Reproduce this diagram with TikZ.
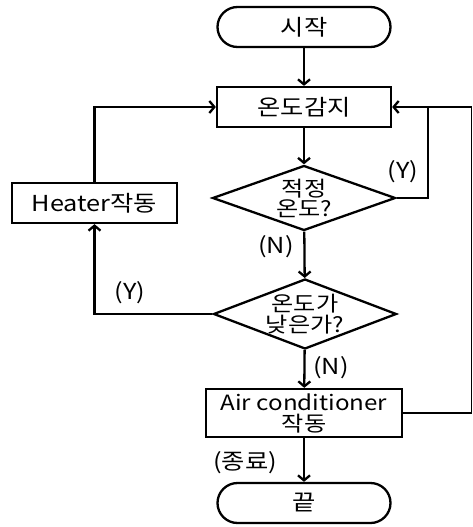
\documentclass[tikz,border=0pt]{standalone}
\usepackage{fontspec}
\setmainfont{Noto Sans CJK KR}[FakeStretch=1.15]
\usetikzlibrary{arrows.meta,shapes.geometric}

\begin{document}
\begin{tikzpicture}[x=1pt,y=-1pt,line width=2.3pt,
    >={Straight Barb[length=5pt,width=12pt]},
    font=\fontsize{22}{24}\selectfont,
    term/.style={draw,rounded corners=20pt,minimum width=173pt,minimum height=40pt,inner sep=0pt},
    proc/.style={draw,minimum height=40pt,inner sep=0pt,align=center},
    decide/.style={draw,diamond,minimum width=183pt,minimum height=65pt,inner sep=0pt},
    tag/.style={inner sep=0pt}]
    \useasboundingbox (0,0) rectangle (473,527);
    % blocks
    \node[term] (start) at (304,27) {시작};
    \node[proc,minimum width=174pt] (sense) at (304,107) {온도감지};
    \node[decide,label={[align=center,font=\fontsize{21}{20}\selectfont]center:적정\\온도?}] (ok) at (304,198) {};
    \node[decide,minimum height=70pt,label={[align=center,font=\fontsize{21}{21}\selectfont]center:온도가\\낮은가?}] (low) at (305,314) {};
    \node[proc,minimum width=165pt] (heater) at (94.5,203) {Heater작동};
    \node[proc,minimum width=196pt,minimum height=48pt,font=\fontsize{21}{23}\selectfont] (aircon) at (304,413) {Air conditioner\\[-2pt]작동};
    \node[term] (stop) at (304,503) {끝};
    \coordinate (loopr) at (428,107);
    \coordinate (outr) at (471.5,107);
    % connectors
    \draw[->] (start) -- (sense);
    \draw[->] (sense) -- (ok);
    \draw[->] (ok) -- (low);
    \draw[->] (ok.east) -| (loopr) -- (sense.east);
    \draw[line width=1.5pt] (aircon.east) -| (outr) -- (loopr);
    \draw[->] (low.west) -| (heater.south);
    \draw[->] (heater.north) |- (sense.west);
    \draw[->] (low) -- (aircon);
    \draw[->] (aircon) -- (stop);
    % labels
    \node[tag] (yok) at (403,172) {(Y)};
    \node[tag] (nok) at (276,247) {(N)};
    \node[tag] (ylow) at (130,293) {(Y)};
    \node[tag] (nlow) at (331,368) {(N)};
    \node[tag] (fin) at (245,463) {(종료)};
\end{tikzpicture}
\end{document}
